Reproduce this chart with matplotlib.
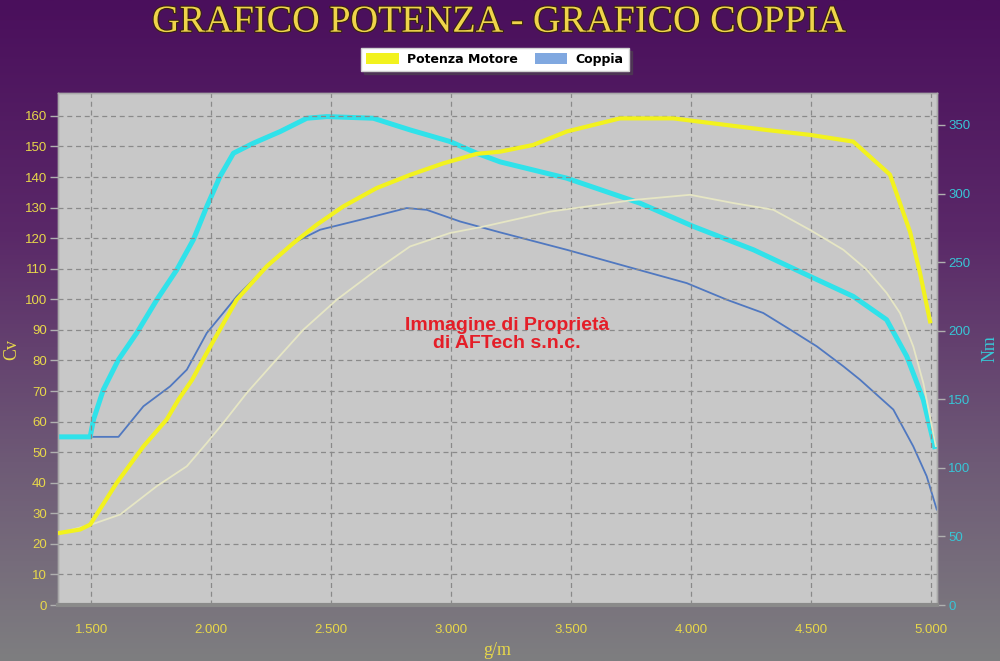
import numpy as np
import matplotlib
matplotlib.use("Agg")
import matplotlib.pyplot as plt
from matplotlib.colors import LinearSegmentedColormap
from matplotlib.patches import Patch
import matplotlib.patheffects as pe

# ---------------- data ----------------
# Potenza motore (thick yellow, Cv, left axis)
pot_rpm = [1370, 1454, 1496, 1607, 1718, 1815, 1864, 1921, 1982, 2107, 2232, 2343,
           2440, 2551, 2690, 2829, 2968, 3107, 3204, 3342, 3482, 3704, 3926, 4038,
           4315, 4496, 4676, 4829, 4913, 4954, 4996]
pot_cv = [23.6, 24.7, 26.3, 40.0, 51.9, 60.7, 67.2, 73.7, 82.5, 99.9, 110.8, 118.4,
          124.4, 130.4, 136.4, 140.7, 144.5, 147.6, 148.3, 150.5, 154.9, 159.2, 159.2, 158.1,
          155.4, 153.8, 151.6, 140.8, 122.0, 108.7, 92.8]

# Potenza di serie (thin pale line, Cv, left axis)
ser_rpm = [1370, 1500, 1621, 1774, 1899, 1982, 2051, 2149, 2260, 2385, 2524, 2690,
           2829, 2996, 3135, 3413, 3760, 3996, 4176, 4343, 4496, 4635, 4732, 4815,
           4871, 4926, 4968, 5020]
ser_cv = [23.6, 26.3, 29.6, 38.9, 45.4, 53.0, 59.6, 69.4, 79.2, 90.1, 99.9, 109.7,
          117.3, 121.7, 123.8, 128.7, 132.5, 134.2, 131.5, 129.3, 122.7, 116.2, 109.7, 102.1,
          95.5, 84.6, 72.6, 52.0]

# Coppia (thick cyan, Nm, right axis)
cop_rpm = [1370, 1496, 1510, 1551, 1614, 1690, 1774, 1857, 1926, 1982, 2037, 2093,
           2176, 2288, 2399, 2482, 2676, 2829, 2996, 3107, 3204, 3482, 3787, 4010,
           4260, 4496, 4676, 4815, 4899, 4968, 5015]
cop_nm = [122.6, 122.6, 135.2, 157.0, 178.9, 198.3, 222.6, 244.4, 266.3, 290.5, 312.4, 329.4,
          336.7, 345.2, 354.9, 356.1, 354.9, 346.4, 337.9, 329.4, 323.1, 311.2, 293.0, 276.0,
          259.0, 239.6, 225.0, 208.0, 181.3, 149.7, 115.5]

# Coppia di serie (thin blue, Nm, right axis)
cs_rpm = [1370, 1614, 1718, 1829, 1899, 1982, 2107, 2218, 2343, 2454, 2621, 2815,
          2899, 3038, 3204, 3482, 3732, 3982, 4149, 4301, 4413, 4524, 4635, 4704,
          4843, 4926, 4982, 5024]
cs_nm = [122.6, 122.6, 144.9, 159.4, 171.6, 198.3, 225.0, 244.4, 263.9, 273.6, 280.8, 289.4,
         288.1, 279.6, 271.7, 259.0, 246.8, 234.7, 222.6, 212.9, 200.8, 188.6, 174.0, 164.3,
         142.5, 115.7, 93.9, 69.6]

x_ticks = [1500, 2000, 2500, 3000, 3500, 4000, 4500, 5000]
x_labels = ["1.500", "2.000", "2.500", "3.000", "3.500", "4.000", "4.500", "5.000"]
cv_ticks = list(range(0, 161, 10))
nm_ticks = list(range(0, 351, 50))

title = "GRAFICO POTENZA - GRAFICO COPPIA"
legend_labels = ["Potenza Motore", "Coppia"]
watermark = "Immagine di Proprietà\ndi AFTech s.n.c."

# ---------------- figure ----------------
fig = plt.figure(figsize=(10, 6.61), dpi=100)

# gradient background
bg = fig.add_axes([0, 0, 1, 1], zorder=-10)
cmap = LinearSegmentedColormap.from_list(
    "bg", [(0.0, "#4a0f5c"), (0.35, "#5a2868"), (0.7, "#6e5a76"), (1.0, "#7e7e80")])
grad = np.linspace(0, 1, 256).reshape(-1, 1)
bg.imshow(grad, aspect="auto", cmap=cmap, extent=[0, 1, 0, 1], origin="upper")
bg.set_axis_off()

pos = [0.058, 0.0847, 0.879, 0.7746]
back = fig.add_axes(pos, zorder=-5)
back.set_facecolor("#c8c8c8")
back.set_xticks([]); back.set_yticks([])
for s in back.spines.values():
    s.set_visible(False)

ax = fig.add_axes(pos)
ax2 = ax.twinx()

xmin, xmax = 1362, 5025
ax.set_xlim(xmin, xmax)
ax.set_ylim(0, 167.5)
ax2.set_ylim(0, 373.3)

grid_kw = dict(color="#8a8a8a", linestyle=(0, (4, 3)), linewidth=0.9)
ax.set_xticks(x_ticks)
ax.set_xticklabels(x_labels)
ax.set_yticks(cv_ticks)
ax2.set_yticks(nm_ticks)
ax.grid(True, **grid_kw)
ax.set_axisbelow(True)

ax.plot(ser_rpm, ser_cv, color="#e6e6c4", lw=1.3, zorder=3)
ax2.plot(cs_rpm, cs_nm, color="#5078c0", lw=1.3, zorder=3)
ax2.plot(cop_rpm, cop_nm, color="#30e2ea", lw=3.6, zorder=4, solid_joinstyle="round")
ax.plot(pot_rpm, pot_cv, color="#f2f21e", lw=3.0, zorder=5, solid_joinstyle="round")
ax.set_zorder(ax2.get_zorder() + 1)
ax.patch.set_visible(False)
ax2.patch.set_visible(False)

yellow = "#e8d84a"
cyan = "#38c6d6"
ax.tick_params(axis="x", colors="#a0a0a0", labelcolor=yellow, length=0, pad=14,
               labelsize=9.5)
ax.tick_params(axis="y", colors="#b0b0b0", labelcolor=yellow, length=6, width=1,
               pad=2, labelsize=9.5)
ax2.tick_params(axis="y", colors="#b0b0b0", labelcolor=cyan, length=6, width=1,
                pad=2, labelsize=9.5)
for lab in ax.get_xticklabels() + ax.get_yticklabels() + ax2.get_yticklabels():
    lab.set_family("Liberation Sans")

for a in (ax, ax2):
    for s in a.spines.values():
        s.set_color("#a8a8a8")
        s.set_linewidth(1.0)
ax.spines["bottom"].set_color("#8a8a8a")
ax.spines["bottom"].set_linewidth(3)

ax.set_xlabel("g/m", family="Liberation Serif", color=yellow, fontsize=13, labelpad=4)
ax.set_ylabel("Cv", family="Liberation Serif", color=yellow, fontsize=13, labelpad=3)
ax2.set_ylabel("Nm", family="Liberation Serif", color=cyan, fontsize=13, labelpad=8,
               rotation=90)

ax.text(0.511, 0.528, watermark, transform=ax.transAxes, ha="center", va="center",
        color="#e41e28", fontsize=14, fontweight="bold", family="Liberation Sans",
        linespacing=1.05, zorder=6)

fig.text(0.5, 0.966, title, ha="center", va="center", family="Liberation Serif",
         fontsize=27.5, color="#efd44a",
         path_effects=[pe.withStroke(linewidth=1.6, foreground="#3a2410")])

handles = [Patch(facecolor="#f2f21e", edgecolor="none"),
           Patch(facecolor="#80a8e0", edgecolor="none")]
leg = fig.legend(handles, legend_labels, loc="center", bbox_to_anchor=(0.495, 0.91),
                 ncol=2, frameon=True, fancybox=False, shadow=True,
                 prop=dict(family="DejaVu Sans", weight="bold", size=9),
                 handlelength=2.6, handleheight=0.9, handletextpad=0.7,
                 columnspacing=1.3, borderpad=0.4, borderaxespad=0)
leg.get_frame().set_facecolor("white")
leg.get_frame().set_edgecolor("#d0d0d0")

fig.savefig("out.png", dpi=100)
